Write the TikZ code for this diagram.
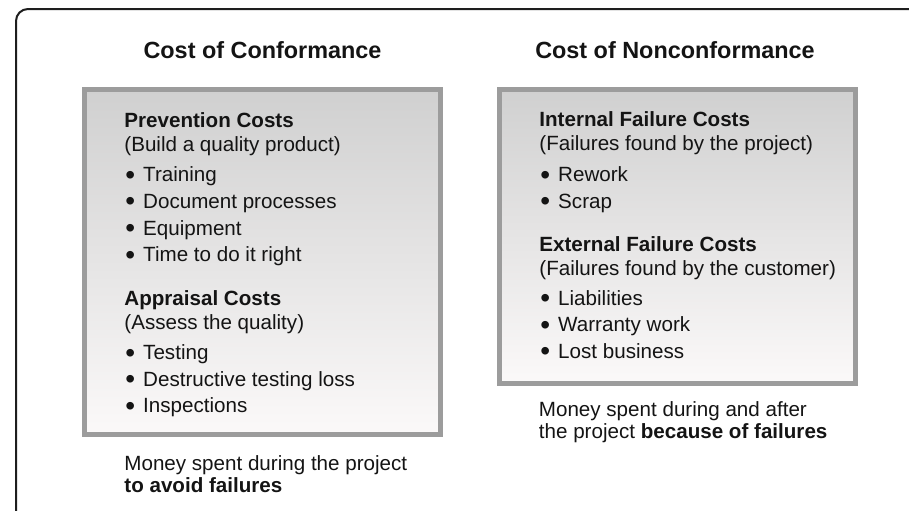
\documentclass[tikz,border=0pt]{standalone}
\usepackage{fontspec}
\setmainfont{Liberation Sans}
\usepackage{xcolor}
\usetikzlibrary{positioning}
\definecolor{boxline}{HTML}{9C9C9C}
\definecolor{boxtop}{HTML}{D0D0D0}
\definecolor{boxbottom}{HTML}{FBF9F9}
\definecolor{framecol}{HTML}{1E1E1E}
\definecolor{inkcol}{HTML}{141414}
\newcommand{\bodysize}{\fontsize{10.3}{12}\selectfont}
\newcommand{\itemdot}{{\fontsize{14}{12}\selectfont\raisebox{-1.2pt}{\textbullet}}\hspace{4pt}}

\begin{document}
\begin{tikzpicture}[
  x=0.5pt,y=-0.5pt,
  outerframe/.style={draw=framecol,line width=1pt,rounded corners=6pt},
  costbox/.style={draw=boxline,line width=2.5pt,top color=boxtop,
                  bottom color=boxbottom,minimum width=178pt,inner sep=0pt},
  coltitle/.style={font=\fontsize{11.7}{14}\selectfont\bfseries,
                   text=inkcol,anchor=base,inner sep=0pt},
  grouphead/.style={font=\bodysize\bfseries,text=inkcol,
                    anchor=base west,inner sep=0pt},
  grouptxt/.style={font=\bodysize,text=inkcol,anchor=base west,inner sep=0pt},
  costitem/.style={grouptxt}
]
\useasboundingbox (0,0) rectangle (909,510);
\draw[outerframe] (930,9) -- (16,9) -- (16,530);

% the two shaded boxes
\node[costbox,minimum height=172.5pt] (confbox) at (262.5,262) {};
\node[costbox,minimum height=147pt] (nonconfbox) at (677.5,236.5) {};

\node[coltitle] (conftitle) at (confbox.center |- 0,58.5) {Cost of Conformance};
\node[coltitle] (nonconftitle) at (675,58.5) {Cost of Nonconformance};

% cost of conformance
\node[grouphead] (prevhead) at (124,127) {Prevention Costs};
\node[grouptxt] (prevsub) at (124,151) {(Build a quality product)};
\foreach \txt [count=\i] in {Training,Document processes,Equipment,Time to do it right}
  \node[costitem] (prev\i) at (125,155+26.7*\i) {\itemdot\txt};

\node[grouphead] (apprhead) at (124,305.5) {Appraisal Costs};
\node[grouptxt] (apprsub) at (124,329) {(Assess the quality)};
\foreach \txt [count=\i] in {Testing,Destructive testing loss,Inspections}
  \node[costitem] (appr\i) at (125,333+26.6*\i) {\itemdot\txt};

\node[grouptxt] (confnote) at (124,470.5) {Money spent during the project};
\node[grouptxt] (confnoteb) at (124,492) {\bfseries to avoid failures};

% cost of nonconformance
\node[grouphead] (inthead) at (539,126.7) {Internal Failure Costs};
\node[grouptxt] (intsub) at (539,150) {(Failures found by the project)};
\foreach \txt [count=\i] in {Rework,Scrap}
  \node[costitem] (int\i) at (540,155+26.7*\i) {\itemdot\txt};

\node[grouphead] (exthead) at (539,251.7) {External Failure Costs};
\node[grouptxt] (extsub) at (539,275) {(Failures found by the customer)};
\foreach \txt [count=\i] in {Liabilities,Warranty work,Lost business}
  \node[costitem] (ext\i) at (540,278.3+26.7*\i) {\itemdot\txt};

\node[grouptxt] (nonconfnote) at (538.5,416) {Money spent during and after};
\node[grouptxt] (nonconfnoteb) at (538.5,438.5) {the project \textbf{because of failures}};
\end{tikzpicture}
\end{document}
